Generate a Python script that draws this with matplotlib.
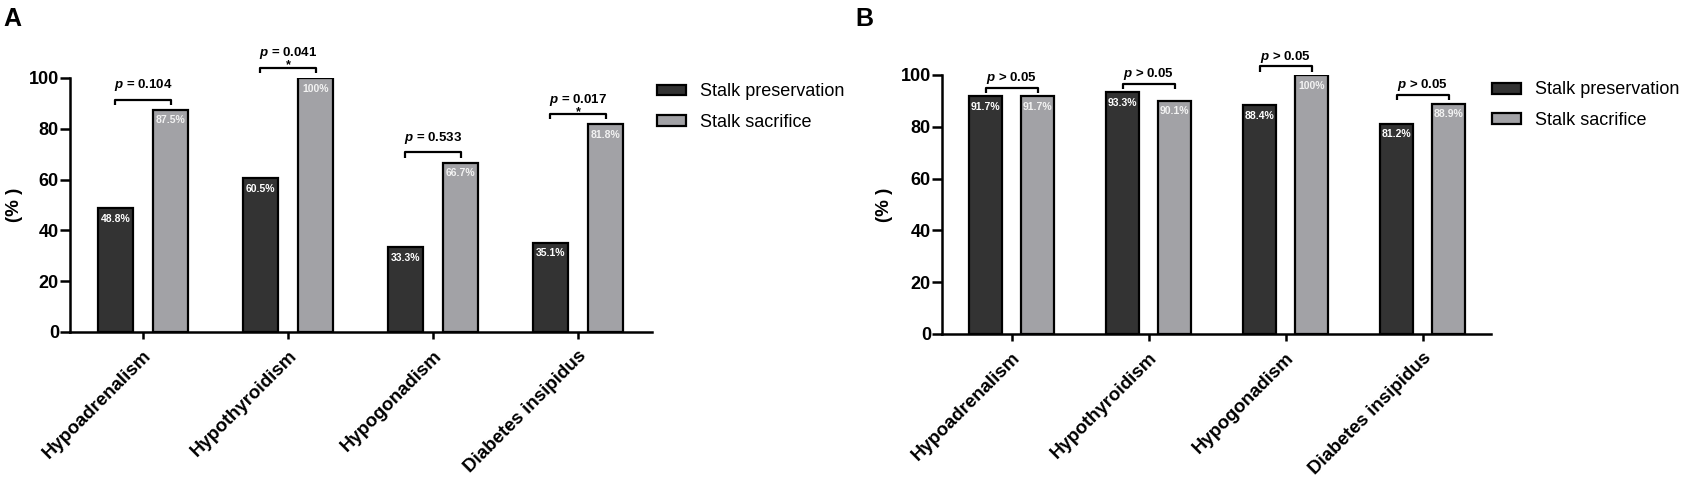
import matplotlib
matplotlib.use('Agg')
import matplotlib.pyplot as plt
import matplotlib.transforms as mtransforms
from matplotlib.patches import Patch

plt.rcParams['font.family'] = ['Liberation Sans', 'DejaVu Sans']
plt.rcParams['mathtext.fontset'] = 'custom'
plt.rcParams['mathtext.it'] = 'Liberation Sans:italic:bold'
plt.rcParams['mathtext.rm'] = 'Liberation Sans:bold'

categories = ['Hypoadrenalism', 'Hypothyroidism', 'Hypogonadism', 'Diabetes insipidus']
series_names = ['Stalk preservation', 'Stalk sacrifice']

# panel A
a_pres = [48.8, 60.5, 33.3, 35.1]
a_sac = [87.5, 100, 66.7, 81.8]
a_pres_lab = ['48.8%', '60.5%', '33.3%', '35.1%']
a_sac_lab = ['87.5%', '100%', '66.7%', '81.8%']
a_p = ['= 0.104', '= 0.041', '= 0.533', '= 0.017']
a_star = ['', '*', '', '*']

# panel B
b_pres = [91.7, 93.3, 88.4, 81.2]
b_sac = [91.7, 90.1, 100, 88.9]
b_pres_lab = ['91.7%', '93.3%', '88.4%', '81.2%']
b_sac_lab = ['91.7%', '90.1%', '100%', '88.9%']
b_p = ['> 0.05', '> 0.05', '> 0.05', '> 0.05']
b_star = ['', '', '', '']

dark = '#333333'
light = '#a2a2a6'

fig = plt.figure(figsize=(16.87, 4.87), dpi=100)


def draw_panel(ax, pres, sac, pres_lab, sac_lab, pvals, stars, br_off, p_off):
    x = list(range(len(categories)))
    shift = 0.19
    w = 0.24
    xp = [i - shift for i in x]
    xs = [i + shift for i in x]
    ax.bar(xp, pres, w, color=dark, edgecolor='black', linewidth=1.6, zorder=3)
    ax.bar(xs, sac, w, color=light, edgecolor='black', linewidth=1.6, zorder=3)

    for i in x:
        ax.text(xp[i], pres[i] - 2.2, pres_lab[i], color='white', fontsize=7.5,
                fontweight='bold', ha='center', va='top', zorder=4)
        ax.text(xs[i], sac[i] - 2.2, sac_lab[i], color='#f2f2f2', fontsize=7.5,
                fontweight='bold', ha='center', va='top', zorder=4)
        # bracket
        top = max(pres[i], sac[i]) + br_off
        ax.plot([xp[i], xp[i], xs[i], xs[i]], [top - 2, top, top, top - 2],
                color='black', lw=1.6, clip_on=False, solid_capstyle='butt')
        if stars[i]:
            ax.text(i, top - 0.3, stars[i], fontsize=9, fontweight='bold',
                    ha='center', va='baseline', clip_on=False)
        ax.text(i, top + p_off, '$p$ ' + pvals[i], fontsize=9.5, fontweight='bold',
                ha='center', va='baseline', clip_on=False)

    ax.set_ylim(0, 100)
    ax.set_yticks([0, 20, 40, 60, 80, 100])
    ax.set_xticks(x)
    ax.set_xticklabels(categories, rotation=45, ha='right', va='top', rotation_mode='anchor',
                       fontsize=13.5, fontweight='bold')
    shift_tr = mtransforms.ScaledTranslation(3 / 100, 0, fig.dpi_scale_trans)
    for lab in ax.get_xticklabels():
        lab.set_transform(lab.get_transform() + shift_tr)
    for lab in ax.get_yticklabels():
        lab.set_fontweight('bold')
        lab.set_fontsize(13)
    ax.tick_params(axis='y', width=1.8, length=7, direction='out', pad=1)
    ax.tick_params(axis='x', width=1.8, length=5, direction='out', pad=6)
    for s in ['top', 'right']:
        ax.spines[s].set_visible(False)
    for s in ['left', 'bottom']:
        ax.spines[s].set_linewidth(1.8)
    ax.set_ylabel('(% )', fontsize=13.5, fontweight='bold')

    handles = [Patch(facecolor=dark, edgecolor='black', linewidth=1.6),
               Patch(facecolor=light, edgecolor='black', linewidth=1.6)]
    return handles


ax_a = fig.add_axes([70 / 1687, 155 / 487, 582 / 1687, 254 / 487])
h = draw_panel(ax_a, a_pres, a_sac, a_pres_lab, a_sac_lab, a_p, a_star, 4.0, 4.5)
ax_a.set_xlim(-0.503, 3.51)
ax_a.yaxis.set_label_coords(-0.08, 0.5)
ax_a.legend(h, series_names, loc='upper left', bbox_to_anchor=(1.0086, 0.979),
            frameon=False, fontsize=13, borderaxespad=0, borderpad=0,
            handlelength=1.6, handleheight=0.55, handletextpad=0.8, labelspacing=0.75)

ax_b = fig.add_axes([942 / 1687, 153 / 487, 549 / 1687, 259 / 487])
h = draw_panel(ax_b, b_pres, b_sac, b_pres_lab, b_sac_lab, b_p, b_star, 3.3, 2.6)
ax_b.set_xlim(-0.51, 3.50)
ax_b.yaxis.set_label_coords(-0.09, 0.5)
ax_b.legend(h, series_names, loc='upper left', bbox_to_anchor=(1.0018, 0.975),
            frameon=False, fontsize=13, borderaxespad=0, borderpad=0,
            handlelength=1.6, handleheight=0.55, handletextpad=0.8, labelspacing=0.75)

fig.text(3 / 1687, 1 - 19 / 487, 'A', fontsize=18, fontweight='bold', va='center', ha='left')
fig.text(855 / 1687, 1 - 19 / 487, 'B', fontsize=18, fontweight='bold', va='center', ha='left')

fig.savefig('out.png', dpi=100)
